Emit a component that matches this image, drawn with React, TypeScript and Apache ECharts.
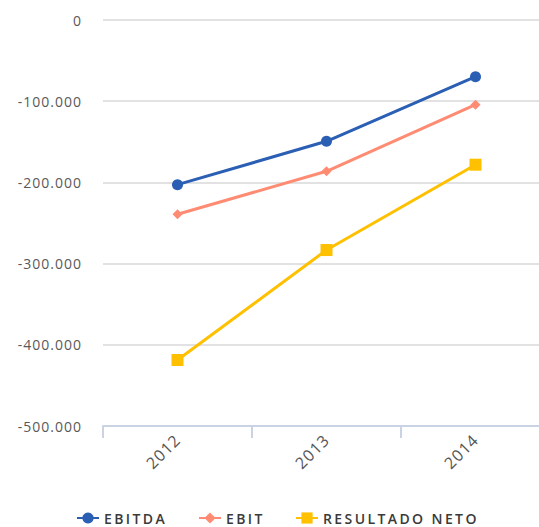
import React, { useEffect, useRef } from "react";
import * as echarts from "echarts";

const categories = ["2012", "2013", "2014"];
const ebitda = [-202800, -149400, -69800];
const ebit = [-239300, -186300, -104300];
const resultadoNeto = [-418700, -283300, -178200];
const yTicks = { min: -500000, max: 0, interval: 100000 };
const seriesNames = ["EBITDA", "EBIT", "RESULTADO NETO"];

const fmt = (v: number) => {
  if (v === 0) return "0";
  const s = Math.abs(v).toString().replace(/\B(?=(\d{3})+(?!\d))/g, ".");
  return (v < 0 ? "-" : "") + s;
};

export default function App() {
  const ref = useRef<HTMLDivElement>(null);
  useEffect(() => {
    if (!ref.current) return;
    const chart = echarts.init(ref.current, undefined, { renderer: "svg" });
    const font = "'Open Sans', 'Noto Sans', sans-serif";
    const legendText = {
      color: "#3a3a3a",
      fontSize: 14,
      fontWeight: 600,
      fontFamily: font,
    };
    const legendBase = { top: 511, itemWidth: 22, itemHeight: 14, textStyle: legendText, itemGap: 0, padding: 0 };
    chart.setOption({
      animation: false,
      backgroundColor: "#ffffff",
      grid: { left: 103, width: 447, top: 20, height: 406 },
      legend: [
        { ...legendBase, data: [seriesNames[0]], left: 76 },
        { ...legendBase, data: [seriesNames[1]], left: 198 },
        { ...legendBase, data: [seriesNames[2]], left: 295 },
      ],
      xAxis: {
        type: "category",
        data: categories,
        boundaryGap: true,
        axisLine: { onZero: false, lineStyle: { color: "#c9d3e3", width: 2 } },
        axisTick: { show: true, length: 12, lineStyle: { color: "#c9d3e3", width: 2 } },
        axisLabel: { rotate: 45, color: "#555555", fontSize: 16, fontFamily: font, margin: 11 },
      },
      yAxis: {
        type: "value",
        min: yTicks.min,
        max: yTicks.max,
        interval: yTicks.interval,
        axisLine: { show: false },
        axisTick: { show: false },
        axisLabel: { color: "#595959", fontSize: 14, fontFamily: font, margin: 21, formatter: fmt },
        splitLine: { lineStyle: { color: "#d9d9d9", width: 1.5 } },
      },
      series: [
        {
          name: seriesNames[0],
          type: "line",
          data: ebitda,
          symbol: "circle",
          symbolSize: 11,
          itemStyle: { color: "#2b5fb4" },
          lineStyle: { width: 3, color: "#2b5fb4" },
        },
        {
          name: seriesNames[1],
          type: "line",
          data: ebit,
          symbol: "diamond",
          symbolSize: 10,
          itemStyle: { color: "#ff8b73" },
          lineStyle: { width: 3, color: "#ff8b73" },
        },
        {
          name: seriesNames[2],
          type: "line",
          data: resultadoNeto,
          symbol: "rect",
          symbolSize: 12,
          itemStyle: { color: "#ffc000" },
          lineStyle: { width: 3, color: "#ffc000" },
        },
      ],
    });
    ref.current.querySelectorAll("text").forEach((t) => {
      const s = (t.textContent || "").trim();
      if (seriesNames.includes(s)) {
        t.setAttribute("letter-spacing", "2.4px");
      } else if (categories.includes(s)) {
        t.setAttribute("letter-spacing", "1px");
      } else if (/^-?[\d.]+$/.test(s)) {
        t.setAttribute("letter-spacing", "1px");
      }
    });
    return () => chart.dispose();
  }, []);
  return (
    <div style={{ position: "absolute", left: 0, top: 0, width: 539, height: 527, overflow: "hidden" }}>
      <div ref={ref} style={{ width: 580, height: 527 }} />
    </div>
  );
}
